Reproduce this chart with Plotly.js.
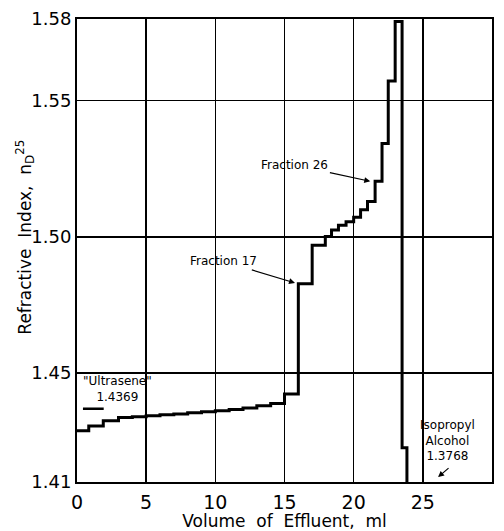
<!DOCTYPE html>
<html>
<head>
<meta charset="utf-8">
<script src="https://cdn.plot.ly/plotly-3.0.1.min.js"></script>
<style>html,body{margin:0;padding:0;background:#fff;}#chart{width:504px;height:531px;}</style>
</head>
<body>
<div id="chart"></div>
<script>
// Volume of effluent (ml) at start of each fraction, and refractive index of that fraction
const volume = [0, 0.85, 1.9, 3.0, 4, 5, 6, 7, 8, 9, 10, 11, 12, 13, 14, 15, 16, 17, 17.95, 18.4, 18.9, 19.45, 20, 20.5, 21, 21.55, 22.05, 22.5, 23, 23.5, 23.85];
const refIndex = [1.4288, 1.4306, 1.4325, 1.4337, 1.4340, 1.4343, 1.4347, 1.4350, 1.4354, 1.4358, 1.4362, 1.4366, 1.4372, 1.4380, 1.4388, 1.4423, 1.4828, 1.4969, 1.5001, 1.5025, 1.5043, 1.5056, 1.5072, 1.5100, 1.5130, 1.5204, 1.5343, 1.5572, 1.5791, 1.4226, 1.3768];
// "Ultrasene" reference level
const ultraseneX = [0.43, 1.93];
const ultraseneY = [1.4369, 1.4369];
const yTicks = [1.41, 1.45, 1.50, 1.55, 1.58];
const yTickText = ['1.41', '1.45', '1.50', '1.55', '1.58'];
const xTicks = [0, 5, 10, 15, 20, 25, 30];

const font = 'DejaVu Sans, sans-serif';
const traces = [
  {x: volume, y: refIndex, type: 'scatter', mode: 'lines', line: {shape: 'hv', color: '#000', width: 3}, hoverinfo: 'none'},
  {x: ultraseneX, y: ultraseneY, type: 'scatter', mode: 'lines', line: {color: '#000', width: 2.5}, hoverinfo: 'none'}
];
const annFont = {family: font, size: 12, color: '#000'};
const layout = {
  width: 504, height: 531,
  margin: {l: 77, r: 12, t: 19, b: 49},
  paper_bgcolor: '#fff', plot_bgcolor: '#fff',
  showlegend: false,
  font: {family: font, color: '#000'},
  xaxis: {
    range: [0, 30], tickvals: xTicks, ticktext: xTicks.map(String),
    showgrid: true, gridcolor: '#000', gridwidth: 1.5,
    showline: true, linecolor: '#000', linewidth: 2, mirror: true,
    zeroline: false, ticks: '', ticklabelstandoff: 2,
    tickfont: {family: font, size: 19, color: '#000'},
    title: {text: 'Volume  of  Effluent,  ml', font: {family: font, size: 17, color: '#000'}, standoff: 3},
    automargin: false
  },
  yaxis: {
    range: [1.41, 1.58], tickvals: yTicks, ticktext: yTickText,
    showgrid: true, gridcolor: '#000', gridwidth: 1.5,
    showline: true, linecolor: '#000', linewidth: 2, mirror: true,
    zeroline: false, ticks: '',
    tickfont: {family: font, size: 18, color: '#000'},
    automargin: false
  },
  annotations: [
    {xref: 'paper', yref: 'paper', x: -0.125, y: 0.528, xanchor: 'center', yanchor: 'middle', textangle: -90, showarrow: false,
     text: 'Refractive  Index,  n<sub>D</sub><sup>25</sup>', font: {family: font, size: 17, color: '#000'}},
    {x: 2.95, y: 1.4442, xref: 'x', yref: 'y', text: '"Ultrasene"<br>1.4369', showarrow: false, font: annFont, align: 'center'},
    {x: 15.76, y: 1.4831, ax: 10.6, ay: 1.491, axref: 'x', ayref: 'y', xref: 'x', yref: 'y', text: 'Fraction 17', showarrow: true, arrowhead: 2, arrowsize: 1, arrowwidth: 1.2, arrowcolor: '#000', font: annFont},
    {x: 21.2, y: 1.5204, ax: 15.75, ay: 1.5263, axref: 'x', ayref: 'y', xref: 'x', yref: 'y', text: 'Fraction 26', showarrow: true, arrowhead: 2, arrowsize: 1, arrowwidth: 1.2, arrowcolor: '#000', font: annFont},
    {x: 26.8, y: 1.4252, xref: 'x', yref: 'y', text: 'Isopropyl<br>Alcohol<br>1.3768', showarrow: false, font: annFont, align: 'center'},
    {x: 26.1, y: 1.4118, ax: 14, ay: -12, xref: 'x', yref: 'y', text: ' ', showarrow: true, arrowhead: 2, arrowsize: 1, arrowwidth: 1.2, arrowcolor: '#000', font: annFont}
  ]
};
Plotly.newPlot('chart', traces, layout, {staticPlot: true, displayModeBar: false});
</script>
</body>
</html>
